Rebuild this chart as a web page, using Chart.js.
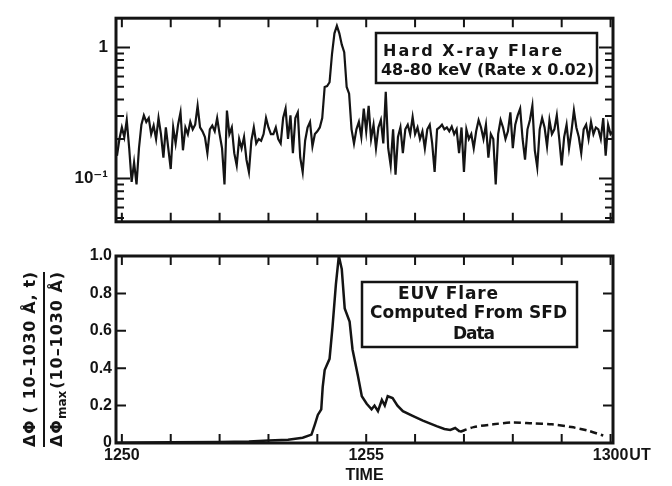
<!DOCTYPE html>
<html><head><meta charset="utf-8">
<script src="https://cdn.jsdelivr.net/npm/chart.js@4/dist/chart.umd.min.js"></script>
<style>
html,body{margin:0;padding:0;background:#fff;}
#wrap{position:relative;width:672px;height:486px;overflow:hidden;background:#fff;}
#c1{position:absolute;left:0;top:0;}
#c2{position:absolute;left:0;top:240px;}
</style></head><body>
<div id="wrap">
<canvas id="c1" width="672" height="240"></canvas>
<canvas id="c2" width="672" height="246"></canvas>
</div>
<script>
const INK = '#141414';
const FONT = "'Liberation Sans', Arial, 'DejaVu Sans', sans-serif";
const NOTE_FONT = "'DejaVu Sans', 'Liberation Sans', sans-serif";

// ---- Hard X-ray rate (x0.02), minutes after 12:50 UT, sampled every 0.05 min from -0.1 ----
const hxrStart = -0.1;
const hxrStep = 0.05;
const hxrRate = [
 0.149,0.200,0.245,0.207,0.279,0.170,0.094,0.132,0.090,0.170,
 0.257,0.303,0.270,0.289,0.218,0.253,0.200,0.289,0.218,0.144,
 0.245,0.170,0.118,0.245,0.185,0.257,0.319,0.164,0.245,0.218,
 0.270,0.237,0.257,0.358,0.245,0.229,0.207,0.156,0.237,0.253,
 0.229,0.289,0.218,0.170,0.090,0.330,0.218,0.245,0.156,0.126,
 0.200,0.170,0.207,0.139,0.112,0.194,0.245,0.185,0.200,0.194,
 0.218,0.289,0.245,0.218,0.218,0.245,0.200,0.185,0.289,0.341,
 0.200,0.303,0.156,0.289,0.319,0.144,0.112,0.194,0.245,0.270,
 0.176,0.218,0.229,0.245,0.289,0.499,0.507,0.542,0.890,1.280,
 1.460,1.280,1.050,0.920,0.499,0.444,0.237,0.185,0.237,0.270,
 0.207,0.341,0.229,0.358,0.200,0.257,0.170,0.245,0.279,0.185,
 0.459,0.170,0.126,0.237,0.107,0.207,0.245,0.156,0.237,0.257,
 0.218,0.294,0.218,0.245,0.200,0.229,0.170,0.237,0.257,0.185,
 0.112,0.237,0.245,0.257,0.237,0.245,0.229,0.249,0.218,0.237,
 0.156,0.245,0.112,0.237,0.200,0.218,0.170,0.229,0.279,0.245,
 0.200,0.257,0.144,0.218,0.200,0.090,0.218,0.279,0.245,0.200,
 0.229,0.319,0.170,0.257,0.303,0.341,0.200,0.139,0.237,0.279,
 0.358,0.164,0.122,0.237,0.289,0.245,0.176,0.279,0.218,0.237,
 0.303,0.200,0.126,0.207,0.257,0.170,0.229,0.330,0.245,0.207,
 0.156,0.237,0.257,0.200,0.270,0.218,0.245,0.237,0.200,0.289,
 0.149,0.257,0.218,0.229
];

// ---- EUV normalised flux ----
const euvTime = [-0.12,1.0,2.0,2.6,3.0,3.4,3.7,3.88,3.95,4.01,4.08,4.11,4.15,4.25,4.31,4.38,4.44,4.50,4.56,4.66,4.72,4.83,4.91,5.01,5.11,5.17,5.24,5.32,5.38,5.44,5.54,5.64,5.75,5.95,6.16,6.44,6.60,6.72,6.82,6.92];
const euvFlux = [0.002,0.004,0.006,0.008,0.013,0.018,0.028,0.045,0.10,0.15,0.18,0.30,0.39,0.45,0.62,0.85,1.0,0.93,0.72,0.65,0.50,0.36,0.25,0.21,0.18,0.20,0.17,0.23,0.20,0.25,0.24,0.20,0.17,0.145,0.12,0.09,0.075,0.07,0.08,0.06];
const euvTailTime = [6.92,7.2,7.6,8.0,8.4,8.8,9.2,9.55,9.85];
const euvTailFlux = [0.06,0.085,0.10,0.11,0.105,0.10,0.085,0.065,0.04];

// ---- axes ----
const minuteTicks = [0,1,2,3,4,5,6,7,8,9,10];
const timeLabelTicks = [0,5,10];
const timeLabels = {0:'1250', 5:'1255', 10:'1300'};
const rateMajor = [0.1, 1];
const rateLabels = {0.1:'10\u207B\u00B9', 1:'1'};
const rateMinor = [0.05,0.06,0.07,0.08,0.09,0.2,0.3,0.4,0.5,0.6,0.7,0.8,0.9];
const fluxTicks = [0,0.2,0.4,0.6,0.8,1.0];
const fluxInner = [0.2,0.4,0.6,0.8];

function drawSpaced(ctx, text, x, y, ls) {
  let cx = x;
  for (const ch of Array.from(text)) {
    ctx.fillText(ch, cx, y);
    cx += ctx.measureText(ch).width + ls;
  }
  return cx - ls;
}
function spacedWidth(ctx, text, ls) {
  const chars = Array.from(text);
  let w = 0; for (const ch of chars) w += ctx.measureText(ch).width;
  return w + ls * (chars.length - 1);
}
function fitSpacing(ctx, text, width) {
  const chars = Array.from(text);
  let w = 0; for (const ch of chars) w += ctx.measureText(ch).width;
  const ls = chars.length > 1 ? (width - w) / (chars.length - 1) : 0;
  return Math.max(-1.5, Math.min(3, ls));
}

function makeFrame(cfg) {
  return {
    id: 'frame',
    afterDatasetsDraw(chart) {
      const {ctx, chartArea: a} = chart;
      const xs = chart.scales.x, ys = chart.scales.y;
      ctx.save();
      ctx.strokeStyle = INK;
      ctx.lineWidth = 2;
      ctx.beginPath();
      for (const t of cfg.xTicks) {
        const px = xs.getPixelForValue(t);
        ctx.moveTo(px, a.top); ctx.lineTo(px, a.top + cfg.xLen);
        ctx.moveTo(px, a.bottom); ctx.lineTo(px, a.bottom - cfg.xLen);
      }
      for (const tk of cfg.yTicks) {
        const py = ys.getPixelForValue(tk.v);
        ctx.moveTo(a.left, py); ctx.lineTo(a.left + tk.len, py);
        ctx.moveTo(a.right, py); ctx.lineTo(a.right - tk.len, py);
      }
      ctx.stroke();
      ctx.lineWidth = 3;
      ctx.strokeRect(a.left, a.top, a.right - a.left, a.bottom - a.top);
      ctx.restore();
    }
  };
}

const notesTop = {
  id: 'notesTop',
  afterDraw(chart) {
    const ctx = chart.ctx;
    ctx.save();
    ctx.strokeStyle = INK; ctx.fillStyle = INK; ctx.lineWidth = 2.5;
    ctx.strokeRect(376, 33, 221, 50);
    ctx.font = 'bold 16px ' + NOTE_FONT;
    ctx.textBaseline = 'middle'; ctx.textAlign = 'left';
    const t1 = 'Hard X-ray Flare';
    drawSpaced(ctx, t1, 383, 52, fitSpacing(ctx, t1, 179));
    const t2 = '48-80 keV (Rate x 0.02)';
    drawSpaced(ctx, t2, 381, 71, fitSpacing(ctx, t2, 213));
    ctx.restore();
  }
};

const notesBottom = {
  id: 'notesBottom',
  afterDraw(chart) {
    const ctx = chart.ctx;
    const xs = chart.scales.x;
    ctx.save();
    ctx.strokeStyle = INK; ctx.fillStyle = INK; ctx.lineWidth = 2.5;
    // legend box
    ctx.strokeRect(362, 42, 215, 65);
    ctx.font = 'bold 17px ' + NOTE_FONT;
    ctx.textBaseline = 'middle'; ctx.textAlign = 'left';
    const lines = [['EUV Flare', 398, 55, 100], ['Computed From SFD', 370, 74, 197], ['Data', 453, 95, 42]];
    for (const [s, x, y, w] of lines) drawSpaced(ctx, s, x, y, fitSpacing(ctx, s, w));
    // UT after 1300
    ctx.font = 'bold 16px ' + FONT;
    const w1300 = ctx.measureText('1300').width;
    ctx.fillText('UT', xs.getPixelForValue(10) + w1300 / 2 + 1, xs.top + 3 + 9.6);
    // y-axis title (fraction)
    const cy = 119.5, span = 175;
    ctx.save();
    ctx.translate(31, cy); ctx.rotate(-Math.PI / 2);
    ctx.font = 'bold 16px ' + NOTE_FONT;
    const num = '\u0394\u03A6 ( 10\u20131030 \u00C5, t)';
    drawSpaced(ctx, num, -span / 2, 0, fitSpacing(ctx, num, span));
    ctx.restore();
    ctx.save();
    ctx.translate(58, cy); ctx.rotate(-Math.PI / 2);
    const p1 = '\u0394\u03A6', p3 = '(10\u20131030 \u00C5)', p2 = 'max';
    ctx.font = 'bold 12px ' + NOTE_FONT;
    const wSub = ctx.measureText(p2).width + 2;
    ctx.font = 'bold 16px ' + NOTE_FONT;
    const base = spacedWidth(ctx, p1, 0) + spacedWidth(ctx, p3, 0);
    const nChars = Array.from(p1 + p3).length - 1;
    const ls = Math.max(-1, (span - wSub - base) / nChars);
    let x = drawSpaced(ctx, p1, -span / 2, 0, ls) + 1;
    ctx.font = 'bold 12px ' + NOTE_FONT;
    ctx.fillText(p2, x, 5);
    x += wSub;
    ctx.font = 'bold 16px ' + NOTE_FONT;
    drawSpaced(ctx, p3, x, 0, ls);
    ctx.restore();
    ctx.lineWidth = 2;
    ctx.beginPath(); ctx.moveTo(44, 32); ctx.lineTo(44, 207); ctx.stroke();
    ctx.restore();
  }
};

Chart.defaults.font.family = FONT;
Chart.defaults.font.weight = 'bold';
Chart.defaults.color = INK;

new Chart(document.getElementById('c1'), {
  type: 'line',
  data: {
    datasets: [{
      data: hxrRate.map((v, i) => ({x: hxrStart + i * hxrStep, y: v})),
      borderColor: INK, borderWidth: 2.2, pointRadius: 0, tension: 0, fill: false
    }]
  },
  options: {
    responsive: false, animation: false, events: [],
    layout: {padding: {left: 0, right: 59, top: 12, bottom: 12}},
    plugins: {legend: {display: false}, tooltip: {enabled: false}},
    scales: {
      x: {type: 'linear', display: false, min: -0.12, max: 10.05},
      y: {
        type: 'logarithmic', min: 0.0467, max: 1.67,
        afterBuildTicks: s => { s.ticks = rateMajor.map(v => ({value: v})); },
        afterFit: s => { s.width = 116; },
        grid: {display: false, drawTicks: false}, border: {display: false},
        ticks: {callback: v => rateLabels[v] ?? '', padding: 8, autoSkip: false,
                font: {size: 17, weight: 'bold'}, color: INK}
      }
    }
  },
  plugins: [makeFrame({
    xTicks: minuteTicks, xLen: 9,
    yTicks: rateMajor.map(v => ({v, len: 14})).concat(rateMinor.map(v => ({v, len: 8})))
  }), notesTop]
});

new Chart(document.getElementById('c2'), {
  type: 'line',
  data: {
    datasets: [
      {data: euvTime.map((t, i) => ({x: t, y: euvFlux[i]})),
       borderColor: INK, borderWidth: 2.5, pointRadius: 0, tension: 0, fill: false},
      {data: euvTailTime.map((t, i) => ({x: t, y: euvTailFlux[i]})),
       borderColor: INK, borderWidth: 2.5, borderDash: [7, 4], pointRadius: 0, tension: 0.3, fill: false}
    ]
  },
  options: {
    responsive: false, animation: false, events: [],
    layout: {padding: {left: 0, right: 59, top: 16, bottom: 0}},
    plugins: {legend: {display: false}, tooltip: {enabled: false}},
    scales: {
      x: {
        type: 'linear', min: -0.12, max: 10.05,
        afterBuildTicks: s => { s.ticks = timeLabelTicks.map(v => ({value: v})); },
        afterFit: s => { s.height = 43; },
        grid: {display: false, drawTicks: false}, border: {display: false},
        ticks: {callback: v => timeLabels[v] ?? '', padding: 3, autoSkip: false, maxRotation: 0,
                font: {size: 16, weight: 'bold'}, color: INK},
        title: {display: true, text: 'TIME', font: {size: 16, weight: 'bold'}, color: INK,
                padding: {top: 0, bottom: 1}}
      },
      y: {
        type: 'linear', min: 0, max: 1,
        afterBuildTicks: s => { s.ticks = fluxTicks.map(v => ({value: v})); },
        afterFit: s => { s.width = 116; },
        grid: {display: false, drawTicks: false}, border: {display: false},
        ticks: {callback: v => v === 0 ? '0' : v.toFixed(1), padding: 4, autoSkip: false,
                font: {size: 16, weight: 'bold'}, color: INK}
      }
    }
  },
  plugins: [makeFrame({
    xTicks: minuteTicks, xLen: 9,
    yTicks: fluxInner.map(v => ({v, len: 10}))
  }), notesBottom]
});
</script>
</body></html>
